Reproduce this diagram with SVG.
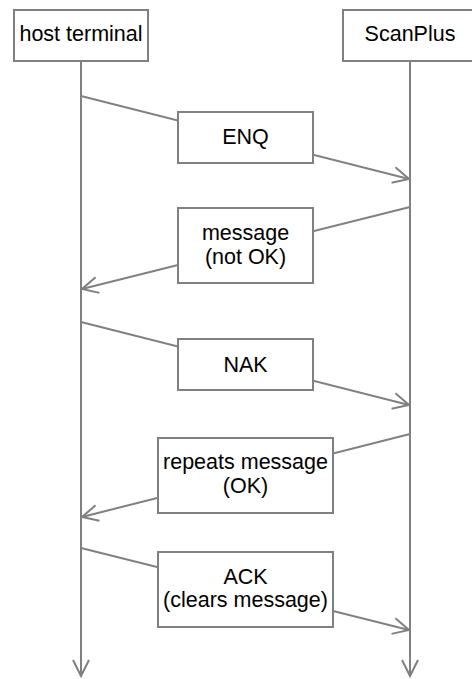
<svg xmlns="http://www.w3.org/2000/svg" width="472" height="679" viewBox="0 0 472 679">
<style>
.box{fill:#fff;stroke:#808080;stroke-width:2}
.ln{fill:none;stroke:#808080;stroke-width:2}
text{font-family:"Liberation Sans",Arial,sans-serif;font-size:21.5px;fill:#000;text-anchor:middle}
</style>
<defs>
<marker id="arr" markerUnits="userSpaceOnUse" markerWidth="24" markerHeight="24" viewBox="-20 -12 24 24" refX="0" refY="0" orient="auto" overflow="visible">
<path d="M-16,-8 L0,0 L-16,8" fill="none" stroke="#808080" stroke-width="2"/>
</marker>
</defs>
<rect width="472" height="679" fill="#fff"/>
<g id="connectors">
<line class="ln" x1="81" y1="61" x2="81" y2="676" marker-end="url(#arr)"/>
<line class="ln" x1="410" y1="61" x2="410" y2="676" marker-end="url(#arr)"/>
<line class="ln" x1="81" y1="96" x2="409" y2="179" marker-end="url(#arr)"/>
<line class="ln" x1="410" y1="207" x2="82" y2="289" marker-end="url(#arr)"/>
<line class="ln" x1="81" y1="322" x2="409" y2="405" marker-end="url(#arr)"/>
<line class="ln" x1="410" y1="434" x2="82" y2="517" marker-end="url(#arr)"/>
<line class="ln" x1="81" y1="548" x2="409" y2="630" marker-end="url(#arr)"/>
</g>
<g id="host">
<rect class="box" x="14" y="10" width="134" height="51"/>
<text x="81" y="41">host terminal</text>
</g>
<g id="scanplus">
<rect class="box" x="343" y="10" width="134" height="51"/>
<text x="410" y="41">ScanPlus</text>
</g>
<g id="enq">
<rect class="box" x="178" y="112" width="135" height="51"/>
<text x="245.5" y="144">ENQ</text>
</g>
<g id="msg-notok">
<rect class="box" x="178" y="208" width="135" height="75"/>
<text x="245.5" y="240">message</text>
<text x="245.5" y="264">(not OK)</text>
</g>
<g id="nak">
<rect class="box" x="178" y="339" width="135" height="51"/>
<text x="245.5" y="372">NAK</text>
</g>
<g id="repeat">
<rect class="box" x="158" y="438" width="175" height="75"/>
<text x="245.5" y="469">repeats message</text>
<text x="245.5" y="493">(OK)</text>
</g>
<g id="ack">
<rect class="box" x="158" y="552" width="175" height="75"/>
<text x="245.5" y="584">ACK</text>
<text x="245.5" y="607">(clears message)</text>
</g>
</svg>
